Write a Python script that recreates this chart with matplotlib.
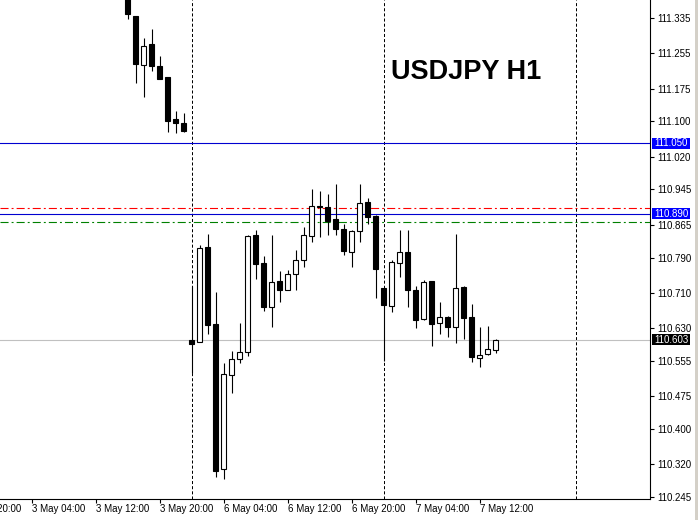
import numpy as np
import pandas as pd
import matplotlib
matplotlib.use("Agg")
import matplotlib.pyplot as plt
from matplotlib import transforms
from matplotlib.patches import Rectangle

symbol = "USDJPY H1"

# bar times: friday tail, then the whole monday and tuesday morning
times = list(pd.date_range("2019-05-03 16:00", periods=8, freq="h")) + \
        list(pd.date_range("2019-05-06 00:00", periods=39, freq="h"))

opens = [111.390, 111.340, 111.228, 111.276, 111.226, 111.201, 111.106, 111.096,
         110.602, 110.598, 110.813, 110.638, 110.307, 110.522, 110.558, 110.575,
         110.841, 110.778, 110.678, 110.736, 110.715, 110.752, 110.784, 110.838,
         110.907, 110.905, 110.877, 110.854, 110.802, 110.850, 110.916, 110.885,
         110.720, 110.679, 110.778, 110.802, 110.715, 110.649, 110.736, 110.640,
         110.654, 110.631, 110.722, 110.654, 110.560, 110.570, 110.579]
highs = [111.395, 111.341, 111.289, 111.310, 111.249, 111.201, 111.124, 111.119,
         110.725, 110.818, 110.843, 110.711, 110.550, 110.577, 110.640, 110.841,
         110.853, 110.793, 110.841, 110.760, 110.761, 110.807, 110.860, 110.946,
         110.942, 110.935, 110.958, 110.866, 110.852, 110.958, 110.925, 110.886,
         110.720, 110.784, 110.852, 110.852, 110.724, 110.738, 110.736, 110.688,
         110.656, 110.843, 110.724, 110.683, 110.631, 110.633, 110.604]
lows = [111.333, 111.187, 111.155, 111.216, 111.196, 111.075, 111.073, 111.077,
        110.526, 110.598, 110.616, 110.291, 110.285, 110.482, 110.550, 110.566,
        110.742, 110.668, 110.632, 110.689, 110.715, 110.717, 110.769, 110.825,
        110.836, 110.841, 110.841, 110.796, 110.769, 110.825, 110.866, 110.697,
        110.555, 110.665, 110.745, 110.677, 110.629, 110.647, 110.588, 110.615,
        110.608, 110.595, 110.604, 110.551, 110.540, 110.567, 110.572]
closes = [111.345, 111.230, 111.273, 111.227, 111.197, 111.102, 111.096, 111.078,
          110.594, 110.811, 110.637, 110.304, 110.524, 110.558, 110.574, 110.838,
          110.776, 110.678, 110.734, 110.717, 110.752, 110.784, 110.841, 110.907,
          110.904, 110.874, 110.856, 110.804, 110.850, 110.914, 110.882, 110.763,
          110.681, 110.779, 110.802, 110.715, 110.647, 110.734, 110.638, 110.654,
          110.631, 110.720, 110.652, 110.563, 110.567, 110.581, 110.603]

time_labels = ["2 May 20:00", "3 May 04:00", "3 May 12:00", "3 May 20:00",
               "6 May 04:00", "6 May 12:00", "6 May 20:00", "7 May 04:00",
               "7 May 12:00"]
price_ticks = ["111.335", "111.255", "111.175", "111.100", "111.020", "110.945",
               "110.865", "110.790", "110.710", "110.630", "110.555", "110.475",
               "110.400", "110.320", "110.245"]

blue_levels = [111.050, 110.890]
red_level = 110.902
green_level = 110.870
bid = 110.603

if __name__ == "__main__":
    plt.rcParams["lines.scale_dashes"] = False
    font = ["Liberation Sans", "DejaVu Sans"]

    W, H = 698, 520
    fig = plt.figure(figsize=(W / 100, H / 100), dpi=100)
    ax = fig.add_axes([0, (H - 499.3) / H, 650 / W, 499.3 / H])

    o = np.array(opens)
    c = np.array(closes)
    x = np.arange(len(o))

    # day separators (midnights), one more beyond the last bar
    first_midnight = [i for i, t in enumerate(times) if t.hour == 0][0]
    for s in np.arange(first_midnight, 65, 24):
        ax.axvline(s, color="black", lw=0.72, dashes=(2.2, 1.5), zorder=1)

    ax.axhline(bid, color="#c0c0c0", lw=0.8, zorder=1)
    for lv in blue_levels:
        ax.axhline(lv, color="#0000d0", lw=0.8, zorder=1)
    ax.axhline(red_level, color="red", lw=0.8, dashes=(5.8, 2.2, 1.4, 2.2), zorder=1)
    ax.axhline(green_level, color="green", lw=0.8, dashes=(5.8, 2.2, 1.4, 2.2), zorder=1)

    # candles
    ax.vlines(x, lows, highs, color="black", lw=0.8, zorder=2)
    body = np.maximum(np.abs(c - o), 0.0012)
    colors = np.where(c >= o, "white", "black")
    ax.bar(x, body, bottom=np.minimum(o, c), width=0.55, color=colors,
           edgecolor="black", linewidth=0.8, zorder=3)

    # axes frame like the terminal
    for side in ["top", "left"]:
        ax.spines[side].set_visible(False)
    for side in ["right", "bottom"]:
        ax.spines[side].set_linewidth(0.8)

    ax.yaxis.tick_right()
    ax.set_yticks([float(p) for p in price_ticks])
    ax.set_yticklabels(price_ticks, family=font, fontsize=7)
    ax.tick_params(axis="y", direction="out", length=3, width=0.8, pad=2)

    tick_idx = np.arange(-20, 45, 8)
    ax.set_xticks(tick_idx)
    ax.set_xticklabels([""] * len(tick_idx))
    ax.tick_params(axis="x", direction="out", length=3, width=0.8)

    ax.set_xlim(-127.5 / 8, (650 - 127.5) / 8)
    ax.set_ylim(110.2391, 111.3767)

    tr = transforms.blended_transform_factory(ax.transData, fig.transFigure)
    for pos, lab in zip(tick_idx, time_labels):
        ax.text(pos, (H - 511.7) / H, lab, transform=tr, ha="left", va="baseline",
                family=font, fontsize=7, clip_on=False)

    # price boxes on the scale
    trb = transforms.blended_transform_factory(fig.transFigure, ax.transData)
    half = 5.2 / 438.9
    for lv, bg in [(blue_levels[0], "#0000ff"), (blue_levels[1], "#0000ff"), (bid, "black")]:
        ax.add_patch(Rectangle((652 / W, lv - half), 38 / W, 2 * half, transform=trb,
                               facecolor=bg, edgecolor="none", clip_on=False, zorder=5))
        ax.text(654 / W, lv, f"{lv:.3f}", transform=trb, ha="left", va="center",
                color="white", family=font, fontsize=7, clip_on=False, zorder=6)

    fig.text(391 / W, (H - 79.3) / H, symbol, ha="left", va="baseline",
             family=font, fontweight="bold", fontsize=19.5)

    fig.patches.append(Rectangle((695 / W, 0), 3 / W, 1, transform=fig.transFigure,
                                 facecolor="#d4d0c8", edgecolor="none"))

    fig.savefig("out.png", dpi=100)
